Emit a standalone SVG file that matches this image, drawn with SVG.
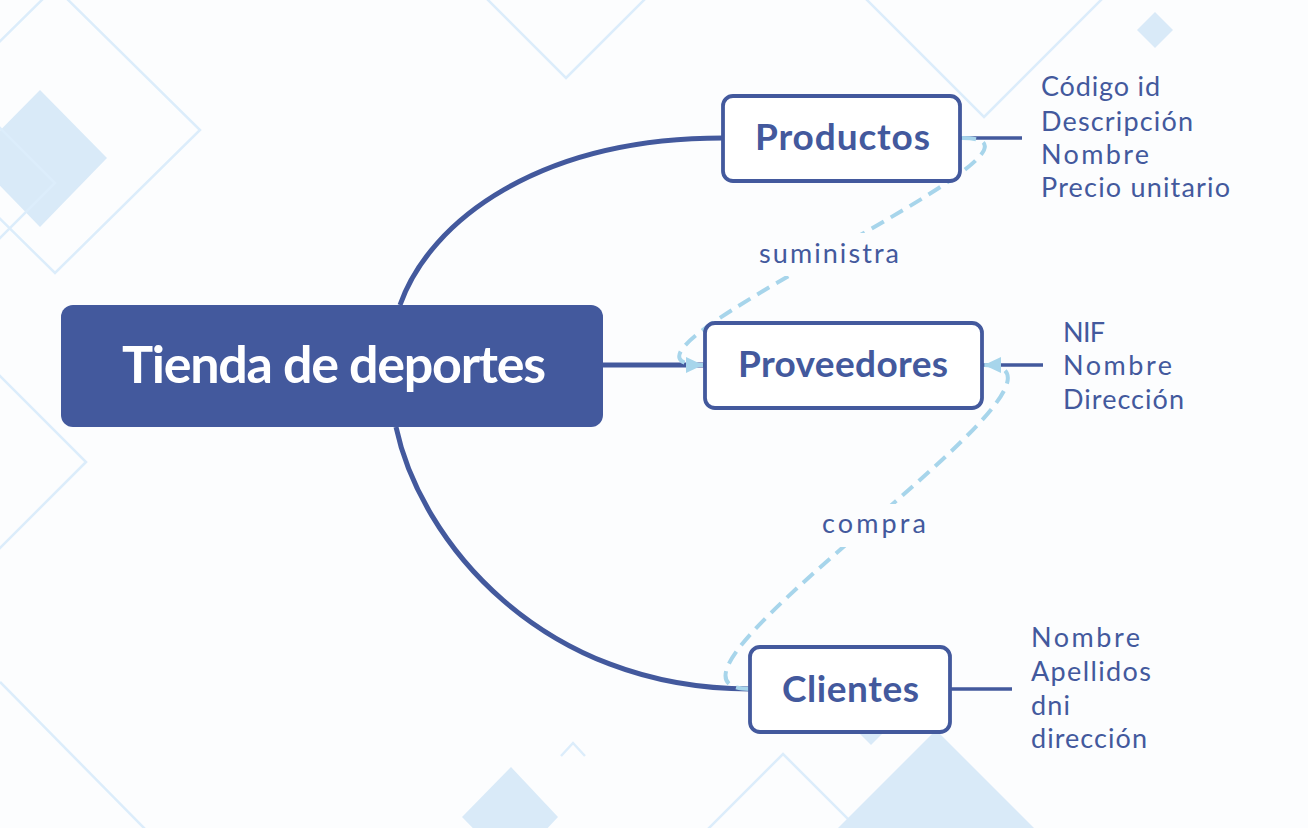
<svg xmlns="http://www.w3.org/2000/svg" width="1308" height="828" viewBox="0 0 1308 828">
<style>
.bgf{fill:#d9eaf8}
.bgl{fill:none;stroke:#dcedfb;stroke-width:2.5}
.main{fill:none;stroke:#43599d;stroke-width:5}
.attr{fill:none;stroke:#43599d;stroke-width:3.5}
.rel{fill:none;stroke:#a7d5eb;stroke-width:4;stroke-dasharray:14 8}
.box{fill:#ffffff;stroke:#43599d;stroke-width:3.8}
.gap{fill:#fcfdfe}
.tm{font-family:Lato,'Liberation Sans',sans-serif;font-weight:700;font-size:52px;fill:#ffffff}
.tn{font-family:Lato,'Liberation Sans',sans-serif;font-weight:700;font-size:37px;fill:#43599d}
.ta{font-family:Lato,'Liberation Sans',sans-serif;font-weight:400;font-size:27px;fill:#43599d}
</style>
<defs>
<marker id="arr" markerUnits="userSpaceOnUse" markerWidth="18" markerHeight="16" refX="17" refY="8" orient="auto">
<path d="M0,0 L17,8 L0,16 z" fill="#a7d5eb"/>
</marker>
</defs>
<rect x="0" y="0" width="1308" height="828" fill="#fcfdfe"/>
<g id="background">
<polygon class="bgf" points="40,90 107,158 40,227 -27,158"/>
<polygon class="bgl" points="55,-13 200,130 55,273 -90,130"/>
<polygon class="bgl" points="-10,118 55,183 -10,248 -75,183"/>
<polygon class="bgl" points="566,78 646,-2 566,-82 486,-2"/>
<polygon class="bgl" points="984,117 1101,0 984,-117 867,0"/>
<polygon class="bgf" points="1155,12 1173,30 1155,48 1137,30"/>
<polygon class="bgl" points="86,462 0,548 -86,462 0,376"/>
<polyline class="bgl" points="0,682 146,830"/>
<polygon class="bgf" points="511,767 558,817 511,867 462,817"/>
<polyline class="bgl" points="561,756 573,743 585,756"/>
<polygon class="bgl" points="783,754 858,829 783,904 708,829"/>
<polygon class="bgf" points="936,730 1036,830 936,930 836,830"/>
<polygon class="bgf" points="871,745 895,721 871,697 847,721"/>
</g>
<g id="connectors">
<path class="main" d="M400,305 C430,220 540,138 723,138"/>
<path class="main" d="M603,365 L705,365"/>
<path class="main" d="M396,427 C420,540 540,689 750,689"/>
<path class="attr" d="M960,138 H1022"/>
<path class="attr" d="M982,365 H1043"/>
<path class="attr" d="M950,689 H1012"/>
<path class="rel" d="M962,138 C1100,138 562,365 703,365" marker-end="url(#arr)"/>
<path class="rel" d="M750,689 C610,689 1122,365 984,365" marker-end="url(#arr)"/>
<g id="label-suministra">
<rect class="gap" x="755" y="233" width="148" height="43"/>
<text class="ta" x="759" y="263" textLength="140" lengthAdjust="spacing">suministra</text>
</g>
<g id="label-compra">
<rect class="gap" x="815" y="504" width="118" height="43"/>
<text class="ta" x="822" y="533" textLength="104" lengthAdjust="spacing">compra</text>
</g>
</g>
<g id="node-tienda">
<rect x="61" y="305" width="542" height="122" rx="12" fill="#43599d"/>
<text class="tm" x="122" y="383" textLength="424" lengthAdjust="spacing">Tienda de deportes</text>
</g>
<g id="node-productos">
<rect class="box" x="723" y="96" width="237" height="85" rx="10"/>
<text class="tn" x="755" y="150" textLength="175" lengthAdjust="spacing">Productos</text>
</g>
<g id="node-proveedores">
<rect class="box" x="705" y="323" width="277" height="85" rx="10"/>
<text class="tn" x="738" y="377" textLength="210" lengthAdjust="spacing">Proveedores</text>
</g>
<g id="node-clientes">
<rect class="box" x="750" y="647" width="200" height="85" rx="10"/>
<text class="tn" x="782" y="702" textLength="137" lengthAdjust="spacing">Clientes</text>
</g>
<g id="attrs-productos">
<text class="ta" x="1041" y="96" textLength="119" lengthAdjust="spacing">Código id</text>
<text class="ta" x="1041" y="131" textLength="152" lengthAdjust="spacing">Descripción</text>
<text class="ta" x="1041" y="164" textLength="108" lengthAdjust="spacing">Nombre</text>
<text class="ta" x="1041" y="197" textLength="189" lengthAdjust="spacing">Precio unitario</text>
</g>
<g id="attrs-proveedores">
<text class="ta" x="1063" y="342" textLength="42" lengthAdjust="spacing">NIF</text>
<text class="ta" x="1063" y="375" textLength="109" lengthAdjust="spacing">Nombre</text>
<text class="ta" x="1063" y="409" textLength="121" lengthAdjust="spacing">Dirección</text>
</g>
<g id="attrs-clientes">
<text class="ta" x="1031" y="647" textLength="109" lengthAdjust="spacing">Nombre</text>
<text class="ta" x="1031" y="681" textLength="120" lengthAdjust="spacing">Apellidos</text>
<text class="ta" x="1031" y="715" textLength="39" lengthAdjust="spacing">dni</text>
<text class="ta" x="1031" y="748" textLength="116" lengthAdjust="spacing">dirección</text>
</g>
</svg>
